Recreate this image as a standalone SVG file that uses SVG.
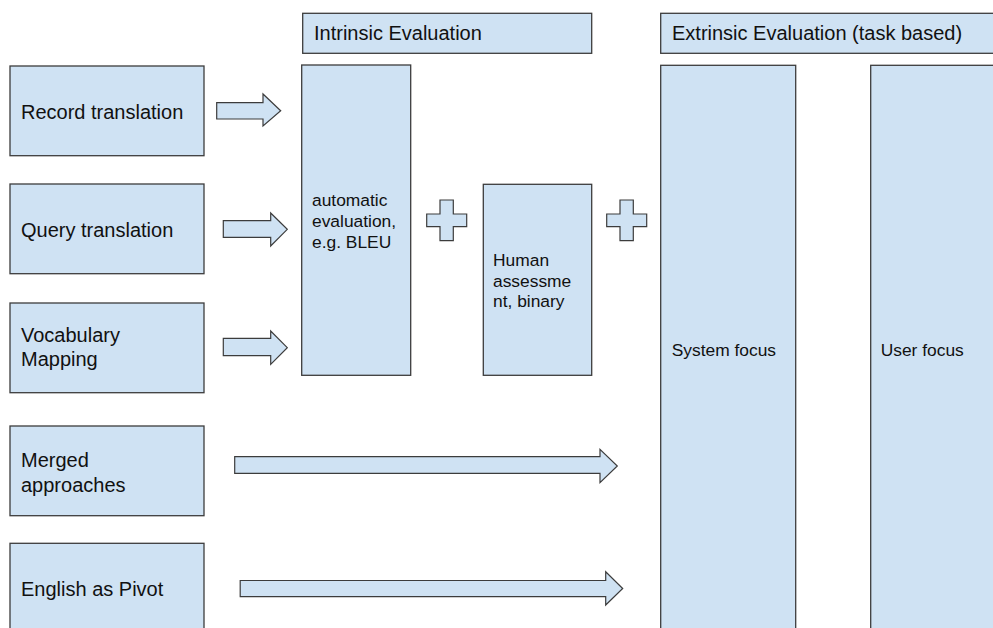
<svg xmlns="http://www.w3.org/2000/svg" width="993" height="628" viewBox="0 0 993 628">
<defs>
<style>
.box{fill:#cfe2f3;stroke:#3c3c3c;stroke-width:1.3}
.arr{fill:#cfe2f3;stroke:#3c3c3c;stroke-width:1.2;stroke-linejoin:miter}
.t20{font-family:"Liberation Sans",Arial,sans-serif;font-size:20px;fill:#111}
.t17{font-family:"Liberation Sans",Arial,sans-serif;font-size:17.4px;fill:#111}
</style>
</defs>
<rect width="993" height="628" fill="#ffffff"/>
<g id="intrinsic-header">
<rect class="box" x="302.7" y="13.3" width="289" height="40"/>
<text class="t20" x="314" y="40">Intrinsic Evaluation</text>
</g>
<g id="extrinsic-header">
<rect class="box" x="660.7" y="13.3" width="340" height="40"/>
<text class="t20" x="672" y="40">Extrinsic Evaluation (task based)</text>
</g>
<g id="record-translation">
<rect class="box" x="10" y="66" width="194" height="89.7"/>
<text class="t20" x="21" y="118.7">Record translation</text>
</g>
<g id="query-translation">
<rect class="box" x="10" y="184" width="194" height="89.7"/>
<text class="t20" x="21" y="236.5">Query translation</text>
</g>
<g id="vocabulary-mapping">
<rect class="box" x="10" y="303" width="194" height="89.7"/>
<text class="t20" x="21" y="341.5">Vocabulary</text>
<text class="t20" x="21" y="366">Mapping</text>
</g>
<g id="merged-approaches">
<rect class="box" x="10" y="426" width="194" height="89.7"/>
<text class="t20" x="21" y="467">Merged</text>
<text class="t20" x="21" y="491.5">approaches</text>
</g>
<g id="english-pivot">
<rect class="box" x="10" y="543.3" width="194" height="89.7"/>
<text class="t20" x="21" y="595.5">English as Pivot</text>
</g>
<g id="automatic-evaluation">
<rect class="box" x="301.7" y="65" width="109" height="310.3"/>
<text class="t17" x="312" y="205.7">automatic</text>
<text class="t17" x="312" y="226.7">evaluation,</text>
<text class="t17" x="312" y="247.7">e.g. BLEU</text>
</g>
<g id="human-assessment">
<rect class="box" x="483.3" y="184.3" width="108.4" height="191"/>
<text class="t17" x="493" y="265.7">Human</text>
<text class="t17" x="493" y="286.5">assessme</text>
<text class="t17" x="493" y="307.2">nt, binary</text>
</g>
<g id="system-focus">
<rect class="box" x="660.7" y="65.3" width="135" height="580"/>
<text class="t17" x="671.7" y="356">System focus</text>
</g>
<g id="user-focus">
<rect class="box" x="870.7" y="65.3" width="140" height="580"/>
<text class="t17" x="880.7" y="356">User focus</text>
</g>
<g id="connectors">
<polygon class="arr" points="216.7,102.7 263,102.7 263,94 280.7,110.8 263,126 263,119 216.7,119"/>
<polygon class="arr" points="223.3,220.7 270.7,220.7 270.7,213 287.3,229.3 270.7,246 270.7,237.3 223.3,237.3"/>
<polygon class="arr" points="223.3,338.3 270.7,338.3 270.7,331 287.3,347.7 270.7,364.3 270.7,355.7 223.3,355.7"/>
<polygon class="arr" points="234.7,456.7 600,456.7 600,449.3 617.3,466 600,482.7 600,473.3 234.7,473.3"/>
<polygon class="arr" points="240.2,580.5 605.7,580.5 605.7,571.7 622.7,588.5 605.7,605 605.7,596.7 240.2,596.7"/>
<polygon id="plus-1" class="arr" points="440,200 453.3,200 453.3,214 466.7,214 466.7,226.7 453.3,226.7 453.3,240.7 440,240.7 440,226.7 426.7,226.7 426.7,214 440,214"/>
<polygon id="plus-2" class="arr" points="620,200 633.3,200 633.3,214 646.7,214 646.7,226.7 633.3,226.7 633.3,240.7 620,240.7 620,226.7 606.7,226.7 606.7,214 620,214"/>
</g>
</svg>
